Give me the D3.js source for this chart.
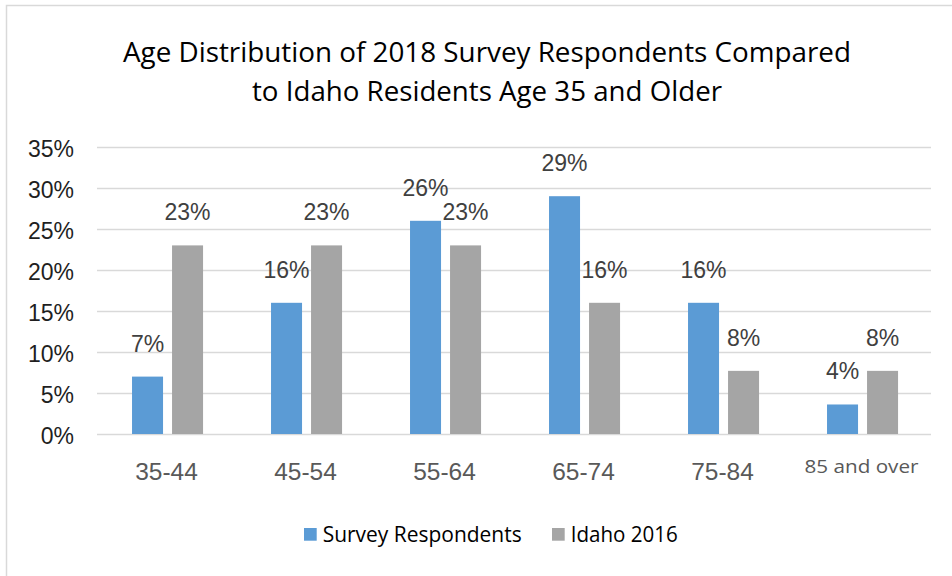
<!DOCTYPE html>
<html>
<head>
<meta charset="utf-8">
<script src="https://cdn.jsdelivr.net/npm/d3@7"></script>
<style>
  html, body { margin: 0; padding: 0; background: #fff; }
  svg { display: block; }
</style>
</head>
<body>
<svg id="chart" width="952" height="576"></svg>
<script>
// Age groups and the share of each population in them (percent)
const categories = ["35-44", "45-54", "55-64", "65-74", "75-84", "85 and over"];
const seriesNames = ["Survey Respondents", "Idaho 2016"];
const surveyRespondents = [7, 16, 26, 29, 16, 3.6];
const idaho2016 = [23, 23, 23, 16, 7.7, 7.7];
const yTicks = [0, 5, 10, 15, 20, 25, 30, 35];
const titleLines = [
  "Age Distribution of 2018 Survey Respondents Compared",
  "to Idaho Residents Age 35 and Older"
];

const colors = { "Survey Respondents": "#5B9BD5", "Idaho 2016": "#A5A5A5" };
const narrowFont = "'Liberation Sans Narrow', 'Arial Narrow', 'Open Sans', sans-serif";
const sansFont = "'Liberation Sans', Arial, sans-serif";

const rows = categories.map((c, i) => ({
  category: c,
  values: [
    { series: seriesNames[0], value: surveyRespondents[i] },
    { series: seriesNames[1], value: idaho2016[i] }
  ]
}));

const svg = d3.select("#chart");

// outer frame of the chart area
svg.append("rect")
  .attr("x", 6.5).attr("y", 5.5)
  .attr("width", 960).attr("height", 590)
  .attr("fill", "#fff")
  .attr("stroke", "#D9D9D9").attr("stroke-width", 1.5);

const plot = { left: 97, right: 931, top: 147, bottom: 434 };

const x0 = d3.scaleBand().domain(categories).range([plot.left, plot.right]).padding(0);
const bw = x0.bandwidth();
const x1 = d3.scaleBand().domain(seriesNames)
  .range([bw * 0.252, bw * 0.763]).paddingInner(0.225).paddingOuter(0);
const y = d3.scaleLinear().domain([0, 35]).range([plot.bottom, plot.top]);

// fit a text element to a given width while keeping its glyph height
function fitWidth(sel, width) {
  sel.attr("textLength", width).attr("lengthAdjust", "spacingAndGlyphs");
}

// title
const title = svg.append("g");
[[titleLines[0], 62, 728], [titleLines[1], 101, 470]].forEach(([t, yy, w]) => {
  title.append("text")
    .attr("x", 487).attr("y", yy)
    .attr("text-anchor", "middle")
    .attr("font-family", narrowFont)
    .attr("font-size", 28)
    .attr("fill", "#000")
    .text(t)
    .call(fitWidth, w);
});

// gridlines
const yAxis = d3.axisLeft(y).tickValues(yTicks)
  .tickSize(-(plot.right - plot.left)).tickPadding(23)
  .tickFormat(d => d + "%");
const gy = svg.append("g")
  .attr("transform", `translate(${plot.left},0)`)
  .call(yAxis);
gy.select(".domain").remove();
gy.selectAll(".tick line").attr("stroke", "#D9D9D9").attr("stroke-width", 1.5);
gy.selectAll(".tick text")
  .attr("font-family", sansFont)
  .attr("font-size", 23)
  .attr("fill", "#1F1F1F")
  .attr("dy", "0.43em");

// category axis
const xAxis = d3.axisBottom(x0).tickSize(0).tickPadding(0);
const gx = svg.append("g")
  .attr("transform", `translate(0,${plot.bottom})`)
  .call(xAxis);
gx.select(".domain").remove();
gx.selectAll(".tick text")
  .attr("dy", null)
  .attr("y", d => d === "85 and over" ? 39 : 46)
  .attr("font-family", d => d === "85 and over" ? "'Open Sans', sans-serif" : sansFont)
  .attr("font-size", d => d === "85 and over" ? 19 : 24.5)
  .attr("fill", "#595959")
  .each(function (d) { if (d === "85 and over") d3.select(this).call(fitWidth, 114); });

// bars
const groups = svg.append("g").selectAll("g")
  .data(rows).join("g")
  .attr("transform", d => `translate(${x0(d.category)},0)`);

groups.selectAll("rect")
  .data(d => d.values).join("rect")
  .attr("x", d => x1(d.series))
  .attr("y", d => y(d.value))
  .attr("width", x1.bandwidth())
  .attr("height", d => y(0) - y(d.value))
  .attr("fill", d => colors[d.series]);

// value labels above bars
groups.selectAll("text")
  .data(d => d.values).join("text")
  .attr("x", d => x1(d.series) + x1.bandwidth() / 2)
  .attr("y", d => y(d.value) - 25)
  .attr("text-anchor", "middle")
  .attr("font-family", sansFont)
  .attr("font-size", 23)
  .attr("fill", "#404040")
  .text(d => d3.format(".0f")(d.value) + "%");

// legend
const legendItems = [
  { name: seriesNames[0], x: 304, w: 199 },
  { name: seriesNames[1], x: 552, w: 107 }
];
const legend = svg.append("g");
legendItems.forEach(item => {
  legend.append("rect")
    .attr("x", item.x).attr("y", 528)
    .attr("width", 12.7).attr("height", 12.7)
    .attr("fill", colors[item.name]);
  legend.append("text")
    .attr("x", item.x + 18.7).attr("y", 541.5)
    .attr("font-family", narrowFont)
    .attr("font-size", 21)
    .attr("fill", "#000")
    .text(item.name)
    .call(fitWidth, item.w);
});
</script>
</body>
</html>
